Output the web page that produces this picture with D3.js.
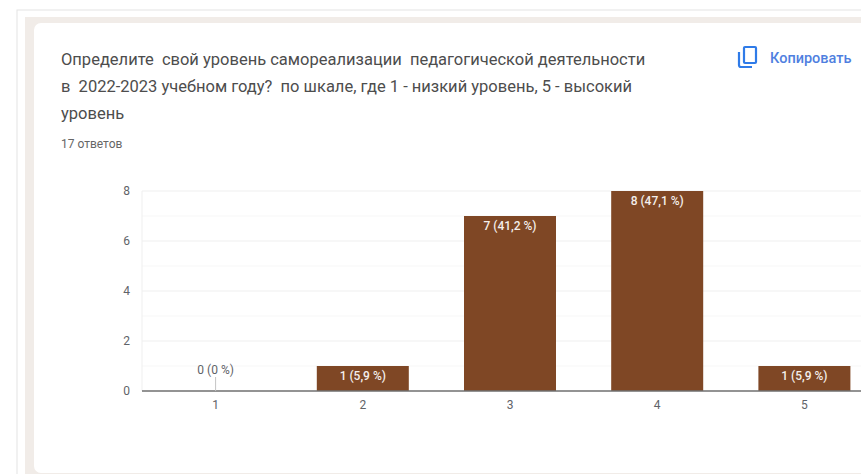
<!DOCTYPE html>
<html>
<head>
<meta charset="utf-8">
<script src="https://cdn.jsdelivr.net/npm/d3@7"></script>
<style>
  html, body { margin: 0; padding: 0; background: #fff; overflow: hidden; }
  svg { display: block; font-family: Roboto, sans-serif; }
</style>
</head>
<body>
<svg id="chart" width="861" height="474"></svg>
<script>
const categories = ['1', '2', '3', '4', '5'];
const counts = [0, 1, 7, 8, 1];
const labels = ['0 (0 %)', '1 (5,9 %)', '7 (41,2 %)', '8 (47,1 %)', '1 (5,9 %)'];
const yTicks = [0, 2, 4, 6, 8];
const minorTicks = [1, 3, 5, 7];
const titleLines = [
  'Определите  свой уровень самореализации  педагогической деятельности',
  'в  2022-2023 учебном году?  по шкале, где 1 - низкий уровень, 5 - высокий',
  'уровень'
];
const answers = '17 ответов';
const copyLabel = 'Копировать';

const svg = d3.select('#chart');

// page frame and card
svg.append('rect').attr('x', 17).attr('y', 10).attr('width', 850).attr('height', 470)
  .attr('fill', '#fff').attr('stroke', '#e4e4e4');
svg.append('rect').attr('x', 25).attr('y', 17).attr('width', 840).attr('height', 460)
  .attr('fill', '#f1ece8');
svg.append('rect').attr('x', 34).attr('y', 23).attr('width', 840).attr('height', 450).attr('rx', 7)
  .attr('fill', '#fff');

svg.selectAll('.title').data(titleLines).enter().append('text')
  .attr('class', 'title')
  .attr('x', 61)
  .attr('y', (d, i) => 65 + i * 27)
  .attr('fill', '#4d4d4d')
  .style('font-size', '16.5px')
  .style('white-space', 'pre')
  .text(d => d);

svg.append('text').attr('x', 61).attr('y', 148)
  .attr('fill', '#666').style('font-size', '12px').text(answers);

// copy button
const icon = svg.append('g').attr('fill', 'none').attr('stroke', '#2f7be8').attr('stroke-width', 2.2);
icon.append('rect').attr('x', 744).attr('y', 47).attr('width', 12).attr('height', 16).attr('rx', 1);
icon.append('path').attr('d', 'M739 52V65a2 2 0 0 0 2 2H752');
svg.append('text').attr('x', 770).attr('y', 63)
  .attr('fill', '#4f7fe0').style('font-size', '14.5px').style('font-weight', 500).text(copyLabel);

const margin = {left: 142, right: 0, top: 191, bottom: 83};
const yScale = d3.scaleLinear().domain([0, 8]).range([391, 191]);
const xScale = d3.scaleBand().domain(categories).range([142, 878]).paddingInner(0.375).paddingOuter(0.1875);

// gridlines
svg.append('g').selectAll('line').data(minorTicks).enter().append('line')
  .attr('x1', 142).attr('x2', 861)
  .attr('y1', d => yScale(d)).attr('y2', d => yScale(d))
  .attr('stroke', '#f7f7f7');
svg.append('g').selectAll('line').data(yTicks.filter(d => d > 0)).enter().append('line')
  .attr('x1', 142).attr('x2', 861)
  .attr('y1', d => yScale(d)).attr('y2', d => yScale(d))
  .attr('stroke', '#efefef');
svg.append('line').attr('x1', 142).attr('x2', 142).attr('y1', 191).attr('y2', 391).attr('stroke', '#efefef');

const yAxis = svg.append('g')
  .attr('transform', 'translate(142,0)')
  .call(d3.axisLeft(yScale).tickValues(yTicks).tickSize(0).tickPadding(12));
yAxis.select('.domain').remove();
yAxis.selectAll('text').attr('fill', '#5f6368').style('font-size', '12px').style('font-family', 'Roboto, sans-serif');

// bars
svg.selectAll('.bar').data(counts).enter().append('rect')
  .attr('class', 'bar')
  .attr('x', (d, i) => xScale(categories[i]))
  .attr('y', d => yScale(d))
  .attr('width', xScale.bandwidth())
  .attr('height', d => yScale(0) - yScale(d))
  .attr('fill', '#7f4725');

const xAxis = svg.append('g')
  .attr('transform', 'translate(0,391)')
  .call(d3.axisBottom(xScale).tickSize(0).tickPadding(9));
xAxis.select('.domain').remove();
xAxis.selectAll('text').attr('fill', '#5f6368').style('font-size', '12px').style('font-family', 'Roboto, sans-serif');
svg.append('line').attr('x1', 142).attr('x2', 861).attr('y1', 391).attr('y2', 391)
  .attr('stroke', '#6f6f6f').attr('stroke-width', 1.4);

// leader line for the empty bar
svg.selectAll('.leader').data(counts.filter(d => d === 0)).enter().append('line')
  .attr('class', 'leader')
  .attr('x1', xScale('1') + xScale.bandwidth() / 2)
  .attr('x2', xScale('1') + xScale.bandwidth() / 2)
  .attr('y1', 377).attr('y2', 391)
  .attr('stroke', '#c4c4c4');

svg.selectAll('.value').data(counts).enter().append('text')
  .attr('class', 'value')
  .attr('x', (d, i) => xScale(categories[i]) + xScale.bandwidth() / 2)
  .attr('y', d => d === 0 ? yScale(0) - 17 : yScale(d) + 14)
  .attr('text-anchor', 'middle')
  .attr('fill', d => d === 0 ? '#5f6368' : '#f4efec')
  .style('font-size', '12px')
  .style('font-weight', d => d === 0 ? 400 : 500)
  .text((d, i) => labels[i]);
</script>
</body>
</html>
